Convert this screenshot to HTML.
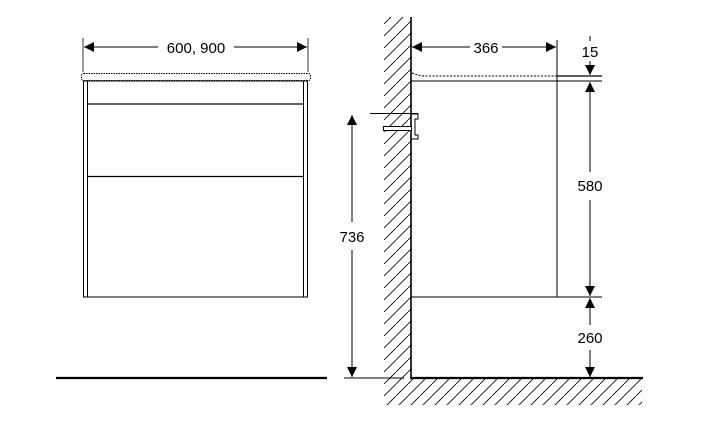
<!DOCTYPE html>
<html><head><style>
html,body{margin:0;padding:0;background:#fff;}
svg{display:block;font-family:"Liberation Sans",Arial,sans-serif;}
</style></head><body>
<svg width="714" height="445" viewBox="0 0 714 445" xmlns="http://www.w3.org/2000/svg">
<defs>
<marker id="a" viewBox="0 0 10 10" refX="10" refY="5" markerWidth="10" markerHeight="10" markerUnits="userSpaceOnUse" orient="auto-start-reverse"><path d="M0,0 L10,5 L0,10 z" fill="#000"/></marker>
<pattern id="h" patternUnits="userSpaceOnUse" width="12" height="12">
<path d="M-1,13 L13,-1" stroke="#000" stroke-width="0.8"/>
</pattern>
</defs>
<g stroke="#000" fill="none">
<line x1="83" y1="38" x2="83" y2="72" stroke-width="0.8"/>
<line x1="308" y1="38" x2="308" y2="72" stroke-width="0.8"/>
<line x1="84" y1="47" x2="158" y2="47" marker-start="url(#a)" stroke-width="1"/>
<line x1="234" y1="47" x2="307" y2="47" marker-end="url(#a)" stroke-width="1"/>
<rect x="81.5" y="73.5" width="229" height="7" rx="2" stroke-dasharray="1.5,1" stroke-width="1"/>
<rect x="83.5" y="81" width="224" height="216" stroke-width="1"/>
<line x1="87.5" y1="81" x2="87.5" y2="297" stroke-width="1"/>
<line x1="303.5" y1="81" x2="303.5" y2="297" stroke-width="1"/>
<line x1="88" y1="104" x2="303" y2="104" stroke-width="1.2"/>
<line x1="88" y1="176.5" x2="303" y2="176.5" stroke-width="1.2"/>
<line x1="56" y1="378" x2="327" y2="378" stroke-width="2.2"/>
</g>
<rect x="384" y="17" width="27" height="361" fill="url(#h)"/>
<rect x="384" y="378" width="258" height="27" fill="url(#h)"/>
<g stroke="#000" fill="none">
<line x1="411" y1="17" x2="411" y2="379" stroke-width="1.6"/>
<line x1="410" y1="378" x2="643" y2="378" stroke-width="2.2"/>
<line x1="370" y1="113.5" x2="418" y2="113.5" stroke-width="1"/>
<rect x="383.5" y="126.5" width="28" height="4" fill="#fff" stroke-width="1"/>
<path d="M411,114 h7 v5 h-3 v16 h3 v4 h-7" stroke-width="1"/>
<line x1="352" y1="115" x2="352" y2="222" marker-start="url(#a)" stroke-width="1"/>
<line x1="352" y1="250" x2="352" y2="377" marker-end="url(#a)" stroke-width="1"/>
<line x1="344" y1="378" x2="404" y2="378" stroke-width="1"/>
<line x1="412" y1="47" x2="470" y2="47" marker-start="url(#a)" stroke-width="1"/>
<line x1="502" y1="47" x2="556" y2="47" marker-end="url(#a)" stroke-width="1"/>
<line x1="557" y1="40" x2="557" y2="297" stroke-width="1"/>
<path d="M412,73 L418,75 Q420,76 424,76 L557,76" stroke-dasharray="2,1.5" stroke-width="1"/>
<line x1="557" y1="76" x2="602" y2="76" stroke-width="1.2"/>
<line x1="411" y1="81" x2="602" y2="81" stroke-width="1"/>
<line x1="411" y1="297" x2="602" y2="297" stroke-width="1"/>
<line x1="590" y1="36" x2="590" y2="41" stroke-width="1"/>
<line x1="590" y1="61" x2="590" y2="75" marker-end="url(#a)" stroke-width="1"/>
<line x1="590" y1="82" x2="590" y2="172" marker-start="url(#a)" stroke-width="1"/>
<line x1="590" y1="200" x2="590" y2="296" marker-end="url(#a)" stroke-width="1"/>
<line x1="590" y1="298" x2="590" y2="325" marker-start="url(#a)" stroke-width="1"/>
<line x1="590" y1="350" x2="590" y2="377" marker-end="url(#a)" stroke-width="1"/>
</g>
<g font-size="15" fill="#000" text-anchor="middle">
<text x="196" y="53">600, 900</text>
<text x="486" y="53">366</text>
<text x="590" y="57">15</text>
<text x="590" y="191">580</text>
<text x="590" y="343">260</text>
<text x="352" y="242">736</text>
</g>
</svg>
</body></html>
